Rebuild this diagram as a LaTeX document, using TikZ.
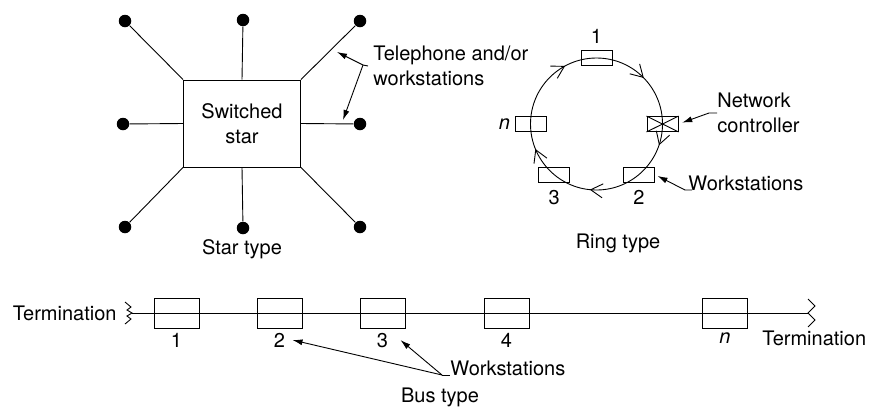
\documentclass[tikz,border=0pt]{standalone}
\usepackage{fontspec}
\setmainfont{TeX Gyre Heros}
\usetikzlibrary{arrows.meta,positioning,calc,decorations.markings}

\begin{document}
\begin{tikzpicture}[
  x=1pt, y=1pt, line width=0.9pt,
  font=\fontsize{20}{25}\selectfont,
  hub/.style={draw, minimum width=117pt, minimum height=87pt,
    align=center, inner sep=0pt},
  dot/.style={circle, fill, inner sep=0pt, minimum size=12.5pt},
  wsbox/.style={draw, minimum width=31pt, minimum height=15pt, inner sep=0pt},
  busbox/.style={draw, minimum width=45pt, minimum height=30pt, inner sep=0pt},
  num/.style={inner sep=2pt},
  note/.style={inner sep=0pt, align=left},
  lead/.style={-{Latex[length=10pt, width=6pt]}},
  barb/.style={decoration={markings, mark=at position #1 with
    {\draw (-12pt,7pt) -- (0pt,0pt) -- (-12pt,-7pt);}}},
  flow/.style={postaction={decorate, barb=0.05}, postaction={decorate, barb=0.264},
    postaction={decorate, barb=0.436}, postaction={decorate, barb=0.669},
    postaction={decorate, barb=0.875}}
]
  \useasboundingbox (0,0) rectangle (877,-408);

  % Star type
  \node[hub] (star) at (242,-123.5) {Switched\\star};
  \node[dot] (dNW) at (125,-21) {};
  \node[dot] (dN) at (243,-20) {};
  \node[dot] (dNE) at (360,-21) {};
  \node[dot] (dW) at (123,-124) {};
  \node[dot] (dE) at (360,-124) {};
  \node[dot] (dSW) at (125,-227) {};
  \node[dot] (dS) at (243,-228) {};
  \node[dot] (dSE) at (360,-227) {};
  \draw (star.north west) -- (dNW);
  \draw (star.north) -- (dN);
  \draw (star.north east) -- (dNE);
  \draw (star.west) -- (dW);
  \draw (star.east) -- (dE);
  \draw (star.south west) -- (dSW);
  \draw (star.south) -- (dS);
  \draw (star.south east) -- (dSE);
  \node (startype) at (242,-249) {Star type};

  % Telephone note
  \coordinate (tel) at (363,-65);
  \coordinate (telA) at (337,-52);
  \coordinate (telB) at (343,-120);
  \node[note, anchor=west, inner xsep=5pt] (telnote) at (368,-66)
    {Telephone and/or\\workstations};
  \draw (tel) -- (telnote.west);
  \draw[lead] (tel) -- (telA);
  \draw[lead] (tel) -- (telB);

  % Ring type
  \coordinate (hubR) at (596.5,-124);
  \draw[flow] ($(hubR)+(66,0)$) arc[start angle=360, end angle=0, radius=66];
  \node[wsbox] (ws1) at ($(hubR)+(90:66)$) {};
  \node[wsbox] (ctrl) at ($(hubR)+(0:66)$) {};
  \node[wsbox] (ws2) at ($(hubR)+(-50:66)$) {};
  \node[wsbox] (ws3) at ($(hubR)+(230:66)$) {};
  \node[wsbox] (wsn) at ($(hubR)+(180:66)$) {};
  \draw (ctrl.north west) -- (ctrl.south east)
        (ctrl.north east) -- (ctrl.south west);
  \node[num, above=4pt of ws1] (r1) {1};
  \node[num, below=5pt of ws2] (r2) {2};
  \node[num, below=5pt of ws3] (r3) {3};
  \node[num, left=2pt of wsn] (rn) {\textit{n}};
  \node[note, anchor=west] (netnote) at (717,-113) {Network\\controller};
  \draw[lead, shorten >=4pt] (netnote.west) -- ++(-8,0) -- (ctrl.east);
  \node[note, anchor=base west] (ringnote) at (688,-190) {Workstations};
  \draw[lead, shorten >=3pt] ($(ringnote.base west)+(4,0)$) -- ++(-7,0)
    -- (ws2.east);
  \node (ringtype) at (618,-243) {Ring type};

  % Bus type
  \coordinate (tL) at (132,-313);
  \coordinate (tR) at (808,-313);
  \draw (tL) -- (tR);
  \draw (125,-302) -- (131,-307) -- (127,-310) -- (tL) -- (127,-316)
    -- (131,-319) -- (125,-324);
  \draw ([shift={(0,14)}]tR) -- ++(7,-7) -- (tR) -- ++(7,-7) -- ++(-7,-7);
  \node[busbox] (b1) at (176.5,-313) {};
  \node[busbox] (b2) at (279.5,-313) {};
  \node[busbox] (b3) at (382.5,-313) {};
  \node[busbox] (b4) at (506.5,-313) {};
  \node[busbox] (bn) at (725,-313) {};
  \node[num, below=2pt of b1] (n1) {1};
  \node[num, below=2pt of b2] (n2) {2};
  \node[num, below=2pt of b3] (n3) {3};
  \node[num, below=2pt of b4] (n4) {4};
  \node[num, below=2pt of bn] (nn) {\textit{n}};
  \node[note, left=15pt of tL] (termL) {Termination};
  \node[note, anchor=west] (termR) at (762,-338) {Termination};
  \coordinate (busbr) at (442,-375);
  \node[note, anchor=base west] (busnote) at (450,-375) {Workstations};
  \draw (busbr) -- (busnote.base west);
  \draw[lead] (busbr) -- ($(n2.east)+(5,0)$);
  \draw[lead] (busbr) -- ($(n3.east)+(10,0)$);
  \node (bustype) at (440,-397) {Bus type};
\end{tikzpicture}
\end{document}
